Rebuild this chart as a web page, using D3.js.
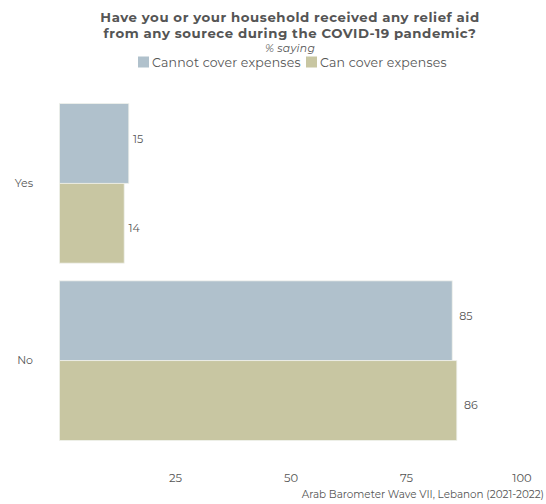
<!DOCTYPE html>
<html><head><meta charset="utf-8">
<script src="https://cdn.jsdelivr.net/npm/d3@7"></script>
<style>body{margin:0;background:#fff}</style>
</head><body>
<svg id="c" width="546" height="504"></svg>
<script>
const categories = ["Yes", "No"];
const seriesNames = ["Cannot cover expenses", "Can cover expenses"];
const cannotValues = [15, 85];
const canValues = [14, 86];
const xTicks = [25, 50, 75, 100];
const colors = ["#b0c1cc", "#c8c6a2"];
const titleLines = ["Have you or your household received any relief aid", "from any sourece during the COVID-19 pandemic?"];
const subtitle = "% saying";
const caption = "Arab Barometer Wave VII, Lebanon (2021-2022)";

const data = categories.map((c, i) => ({cat: c, vals: [cannotValues[i], canValues[i]]}));
const font = "Montserrat, 'Open Sans', sans-serif";
const svg = d3.select("#c");

const x = d3.scaleLinear().domain([0, 100]).range([59.5, 521.5]);
const y = d3.scaleBand().domain(categories).range([77, 467]).paddingInner(0.1).paddingOuter(0.15);
const ys = d3.scaleBand().domain(seriesNames).range([0, y.bandwidth()]);

// title
svg.append("g").selectAll("text").data(titleLines).join("text")
  .attr("x", 290).attr("y", (d, i) => 22 + i * 16)
  .attr("text-anchor", "middle").attr("font-family", font).attr("font-weight", "bold")
  .attr("font-size", 13.3).attr("letter-spacing", 0.55).attr("fill", "#555").text(d => d);
svg.append("text").attr("x", 290).attr("y", 51.5).attr("text-anchor", "middle")
  .attr("font-family", font).attr("font-style", "italic").attr("font-size", 10.8)
  .attr("letter-spacing", 0.3).attr("fill", "#555").text(subtitle);

// legend
const legendX = [138, 306];
const lg = svg.append("g").selectAll("g").data(seriesNames).join("g")
  .attr("transform", (d, i) => `translate(${legendX[i]},56.5)`);
lg.append("rect").attr("width", 11).attr("height", 11).attr("fill", (d, i) => colors[i]);
lg.append("text").attr("x", 14).attr("y", 10.8).attr("font-family", font).attr("font-size", 12.5)
  .attr("letter-spacing", 0.2).attr("fill", "#555").text(d => d);

// bars
const g = svg.append("g").selectAll("g").data(data).join("g")
  .attr("transform", d => `translate(0,${y(d.cat)})`);
g.selectAll("rect").data(d => d.vals.map((v, i) => ({v, s: seriesNames[i], i}))).join("rect")
  .attr("x", x(0)).attr("y", d => ys(d.s)).attr("width", d => x(d.v) - x(0))
  .attr("height", ys.bandwidth()).attr("fill", d => colors[d.i])
  .attr("stroke", "#eef0ea").attr("stroke-width", 0.8);
g.selectAll("text").data(d => d.vals.map((v, i) => ({v, s: seriesNames[i], i}))).join("text")
  .attr("x", d => x(d.v) + 3.7 + 0.0085 * (x(d.v) - x(0)))
  .attr("y", d => ys(d.s) + ys.bandwidth() / 2 + (d.i === 0 ? -4.5 : 4.5))
  .attr("dy", "0.35em").attr("font-family", font).attr("font-size", 11)
  .attr("fill", "#555").text(d => d.v);

// y axis labels
const yAxis = d3.axisLeft(y).tickSize(0).tickPadding(0);
const ya = svg.append("g").attr("transform", "translate(33,0)").call(yAxis);
ya.select(".domain").remove();
ya.selectAll("text").attr("font-family", font).attr("font-size", 11).attr("fill", "#555");

// x axis
const xAxis = d3.axisBottom(x).tickValues(xTicks).tickSize(0).tickPadding(7);
const xa = svg.append("g").attr("transform", "translate(0,467)").call(xAxis);
xa.select(".domain").remove();
xa.selectAll("text").attr("font-family", font).attr("font-size", 11.5).attr("fill", "#555");

// caption
svg.append("text").attr("x", 544).attr("y", 498).attr("text-anchor", "end")
  .attr("font-family", font).attr("font-size", 10.4).attr("fill", "#555").text(caption);
</script>
</body></html>
